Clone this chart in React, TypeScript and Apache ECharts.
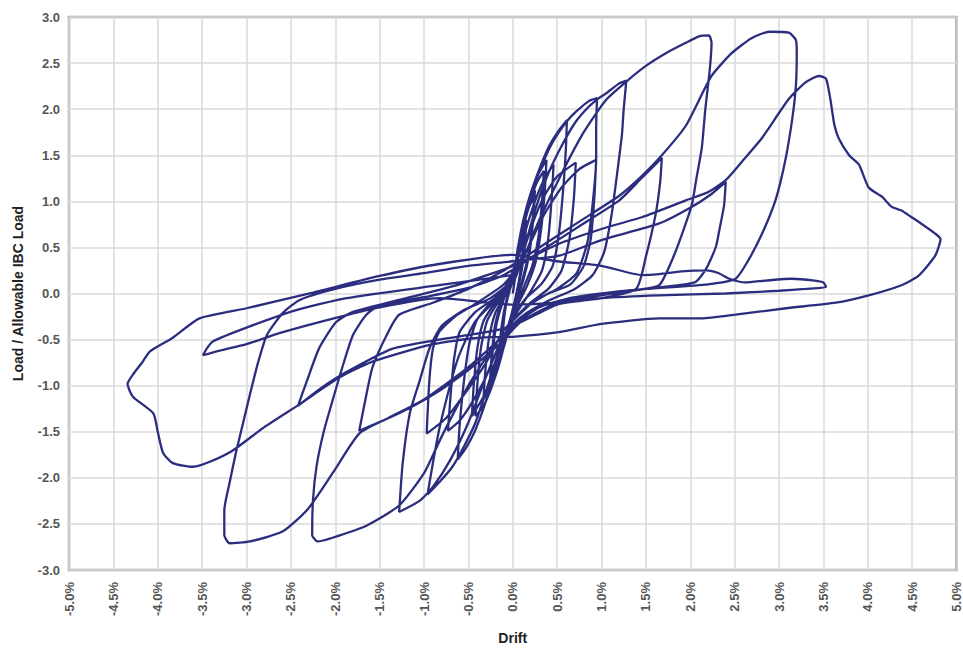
import React, { useEffect, useRef } from 'react';
import * as echarts from 'echarts';

// Axis ranges (drift in %, load ratio)
const X_MIN = -5;
const X_MAX = 5;
const X_STEP = 0.5;
const Y_MIN = -3;
const Y_MAX = 3;
const Y_STEP = 0.5;

// Hysteresis path: [drift %, load / allowable]
const cycle01 = [[0, 0], [0.04, 0.25], [0.08, 0.5], [0.12, 0.68], [0.11, 0.45], [0.08, 0.2], [0.03, -0.05], [-0.02, -0.25], [-0.07, -0.45], [-0.12, -0.62], [-0.11, -0.4], [-0.08, -0.15], [-0.03, 0.05], [0.02, 0.2]];
const cycle01b = [[0.05, 0.35], [0.1, 0.6], [0.15, 0.8], [0.14, 0.55], [0.1, 0.25], [0.04, -0.02], [-0.03, -0.3], [-0.09, -0.55], [-0.15, -0.72], [-0.14, -0.48], [-0.1, -0.2], [-0.04, 0.04], [0.01, 0.18]];
const cycle02 = [[0.07, 0.45], [0.13, 0.75], [0.19, 0.98], [0.25, 1.12], [0.23, 0.8], [0.19, 0.45], [0.12, 0.15], [0.03, -0.1], [-0.05, -0.35], [-0.12, -0.65], [-0.19, -0.88], [-0.26, -1.02], [-0.24, -0.7], [-0.2, -0.35], [-0.12, -0.08], [-0.02, 0.12]];
const cycle02b = [[0.06, 0.42], [0.12, 0.72], [0.18, 0.93], [0.24, 1.05], [0.22, 0.75], [0.17, 0.4], [0.1, 0.12], [0.02, -0.12], [-0.06, -0.38], [-0.13, -0.66], [-0.2, -0.86], [-0.25, -0.96], [-0.23, -0.66], [-0.18, -0.32], [-0.1, -0.06], [-0.01, 0.14]];
const cycle03 = [[0.05, 0.4], [0.12, 0.75], [0.2, 1.05], [0.28, 1.28], [0.38, 1.45], [0.36, 1.1], [0.32, 0.7], [0.26, 0.35], [0.16, 0.08], [0.04, -0.15], [-0.06, -0.4], [-0.15, -0.75], [-0.24, -1.02], [-0.33, -1.22], [-0.42, -1.33], [-0.4, -1.0], [-0.36, -0.6], [-0.29, -0.3], [-0.17, -0.1], [-0.03, 0.1]];
const cycle03b = [[0.04, 0.38], [0.11, 0.7], [0.19, 0.98], [0.27, 1.2], [0.35, 1.33], [0.33, 1.0], [0.29, 0.62], [0.22, 0.3], [0.12, 0.06], [0.02, -0.16], [-0.07, -0.42], [-0.16, -0.76], [-0.25, -1.0], [-0.33, -1.15], [-0.31, -0.85], [-0.27, -0.5], [-0.2, -0.22], [-0.09, -0.02], [0.0, 0.12]];
const cycle04 = [[0.05, 0.45], [0.12, 0.8], [0.2, 1.08], [0.3, 1.35], [0.41, 1.6], [0.52, 1.77], [0.61, 1.88], [0.6, 1.6], [0.57, 1.15], [0.52, 0.65], [0.45, 0.3], [0.32, 0.1], [0.15, -0.05], [0.0, -0.25], [-0.12, -0.55], [-0.22, -0.9], [-0.32, -1.22], [-0.43, -1.5], [-0.53, -1.68], [-0.62, -1.8], [-0.6, -1.45], [-0.55, -0.95], [-0.49, -0.55], [-0.4, -0.28], [-0.25, -0.1], [-0.08, 0.08]];
const cycle05 = [[0.05, 0.35], [0.15, 0.7], [0.25, 1.0], [0.36, 1.25], [0.46, 1.4], [0.44, 1.05], [0.4, 0.6], [0.33, 0.25], [0.2, 0.02], [0.05, -0.2], [-0.08, -0.45], [-0.2, -0.8], [-0.32, -1.1], [-0.46, -1.33], [-0.44, -1.0], [-0.4, -0.6], [-0.33, -0.3], [-0.2, -0.1], [-0.05, 0.1]];
const cycle06 = [[0.05, 0.4], [0.15, 0.85], [0.27, 1.25], [0.4, 1.55], [0.52, 1.75], [0.62, 1.88], [0.71, 1.97], [0.86, 2.09], [0.95, 2.12], [0.94, 1.8], [0.94, 1.47], [0.9, 0.97], [0.84, 0.55], [0.72, 0.22], [0.5, 0.05], [0.25, -0.08], [0.0, -0.3], [-0.15, -0.6], [-0.28, -1.0], [-0.42, -1.4], [-0.55, -1.66], [-0.68, -1.88], [-0.82, -2.04], [-0.96, -2.18], [-0.9, -1.84], [-0.83, -1.48], [-0.74, -1.12], [-0.64, -0.77], [-0.57, -0.59], [-0.42, -0.3], [-0.2, -0.08], [0.0, 0.12]];
const cycle07 = [[0.1, 0.4], [0.22, 0.75], [0.35, 1.05], [0.5, 1.27], [0.71, 1.42], [0.69, 1.05], [0.64, 0.6], [0.55, 0.25], [0.4, 0.05], [0.2, -0.1], [0.0, -0.3], [-0.15, -0.55], [-0.3, -0.9], [-0.47, -1.2], [-0.6, -1.38], [-0.73, -1.49], [-0.7, -1.1], [-0.66, -0.7], [-0.6, -0.42], [-0.42, -0.2], [-0.2, -0.05], [0.02, 0.15]];
const cycle08 = [[0.12, 0.45], [0.25, 0.9], [0.4, 1.3], [0.55, 1.6], [0.7, 1.85], [0.85, 2.02], [0.97, 2.12], [1.05, 2.17], [1.2, 2.28], [1.28, 2.31], [1.25, 2.0], [1.23, 1.72], [1.16, 1.18], [1.11, 0.83], [1.03, 0.45], [0.9, 0.2], [0.7, 0.05], [0.4, -0.08], [0.1, -0.25], [-0.1, -0.45], [-0.3, -0.9], [-0.5, -1.4], [-0.7, -1.8], [-0.9, -2.1], [-1.05, -2.25], [-1.28, -2.37], [-1.24, -1.84], [-1.16, -1.3], [-1.05, -0.95], [-0.94, -0.6], [-0.8, -0.35], [-0.55, -0.18], [-0.25, -0.05], [0.0, 0.15]];
const cycle09 = [[0.15, 0.45], [0.35, 0.85], [0.55, 1.15], [0.75, 1.35], [0.94, 1.45], [0.92, 1.05], [0.88, 0.6], [0.8, 0.3], [0.65, 0.1], [0.4, 0.0], [0.15, -0.15], [-0.1, -0.4], [-0.3, -0.75], [-0.55, -1.1], [-0.75, -1.35], [-0.97, -1.52], [-0.94, -0.95], [-0.9, -0.6], [-0.83, -0.42], [-0.65, -0.25], [-0.4, -0.1], [-0.1, 0.1]];
const cycle10 = [[0.1, 0.35], [0.3, 0.8], [0.55, 1.3], [0.8, 1.75], [1.05, 2.1], [1.28, 2.3], [1.5, 2.47], [1.73, 2.61], [1.95, 2.72], [2.1, 2.79], [2.21, 2.8], [2.24, 2.72], [2.22, 2.43], [2.17, 2.0], [2.13, 1.58], [2.07, 1.25], [2.02, 0.97], [1.95, 0.76], [1.82, 0.42], [1.65, 0.09], [1.4, 0.04], [1.0, 0.0], [0.6, -0.06], [0.3, -0.15], [0.0, -0.35], [-0.2, -0.55], [-0.5, -1.0], [-0.8, -1.55], [-1.0, -1.95], [-1.28, -2.3], [-1.65, -2.52], [-2.03, -2.65], [-2.2, -2.69], [-2.26, -2.62], [-2.25, -2.23], [-2.21, -1.87], [-2.13, -1.5], [-2.03, -1.16], [-1.92, -0.8], [-1.8, -0.45], [-1.65, -0.23], [-1.5, -0.13], [-1.0, -0.04], [-0.5, 0.06], [-0.1, 0.2]];
const cycle11 = [[0.3, 0.45], [0.75, 0.73], [1.2, 1.01], [1.45, 1.25], [1.68, 1.47], [1.66, 1.2], [1.61, 0.86], [1.5, 0.4], [1.39, 0.05], [1.0, -0.05], [0.5, -0.12], [0.1, -0.3], [-0.15, -0.55], [-0.5, -0.83], [-0.9, -1.1], [-1.28, -1.3], [-1.73, -1.49], [-1.66, -1.15], [-1.58, -0.8], [-1.42, -0.45], [-1.28, -0.23], [-0.9, -0.1], [-0.5, 0.05], [-0.1, 0.25]];
const cycle12 = [[0.3, 0.5], [0.75, 0.78], [1.2, 1.06], [1.45, 1.27], [1.68, 1.5], [1.95, 1.82], [2.24, 2.36], [2.47, 2.61], [2.69, 2.77], [2.89, 2.84], [3.11, 2.83], [3.19, 2.75], [3.2, 2.61], [3.19, 2.25], [3.15, 1.9], [3.07, 1.44], [2.96, 1.01], [2.81, 0.65], [2.66, 0.37], [2.51, 0.16], [2.2, 0.1], [1.5, 0.05], [1.0, 0.0], [0.5, -0.1], [0.1, -0.3], [-0.15, -0.5], [-0.5, -0.8], [-1.0, -1.15], [-1.4, -1.35], [-1.73, -1.52], [-2.03, -1.95], [-2.31, -2.34], [-2.59, -2.58], [-2.96, -2.69], [-3.19, -2.71], [-3.25, -2.62], [-3.25, -2.35], [-3.19, -2.05], [-3.12, -1.73], [-3.04, -1.41], [-2.96, -1.09], [-2.87, -0.75], [-2.77, -0.45], [-2.59, -0.21], [-2.4, -0.07], [-2.0, 0.05], [-1.5, 0.15], [-1.0, 0.22], [-0.5, 0.3], [0.0, 0.35]];
const cycle13 = [[0.52, 0.41], [1.0, 0.58], [1.65, 0.76], [2.0, 0.93], [2.24, 1.08], [2.4, 1.21], [2.38, 0.95], [2.33, 0.7], [2.29, 0.51], [2.18, 0.27], [2.05, 0.12], [1.5, 0.05], [1.0, -0.02], [0.5, -0.12], [0.0, -0.35], [-0.3, -0.42], [-0.83, -0.5], [-1.36, -0.6], [-1.87, -0.85], [-2.15, -1.02], [-2.42, -1.22], [-2.32, -0.95], [-2.18, -0.59], [-1.99, -0.31], [-1.8, -0.2], [-1.2, -0.05], [-0.6, 0.1], [0.0, 0.3]];
const cycle14 = [[0.52, 0.54], [1.0, 0.7], [1.46, 0.83], [1.95, 1.01], [2.2, 1.1], [2.4, 1.23], [2.6, 1.45], [2.81, 1.69], [3.11, 2.11], [3.3, 2.29], [3.45, 2.36], [3.53, 2.33], [3.58, 2.1], [3.62, 1.85], [3.67, 1.69], [3.79, 1.5], [3.9, 1.4], [4.01, 1.15], [4.16, 1.05], [4.27, 0.94], [4.38, 0.9], [4.49, 0.83], [4.6, 0.76], [4.76, 0.65], [4.82, 0.59], [4.76, 0.41], [4.57, 0.19], [4.38, 0.09], [4.01, -0.02], [3.64, -0.1], [3.08, -0.16], [2.51, -0.23], [2.13, -0.27], [1.65, -0.27], [1.0, -0.33], [0.52, -0.42], [0.0, -0.47], [-0.38, -0.48], [-0.9, -0.55], [-1.58, -0.74], [-1.95, -0.91], [-2.4, -1.2], [-2.8, -1.45], [-3.15, -1.7], [-3.4, -1.82], [-3.6, -1.88], [-3.83, -1.84], [-3.94, -1.73], [-4.0, -1.5], [-4.05, -1.3], [-4.28, -1.12], [-4.34, -0.98], [-4.28, -0.88], [-4.17, -0.74], [-4.09, -0.63], [-3.83, -0.48], [-3.53, -0.27], [-3.0, -0.16], [-2.25, 0.01], [-1.5, 0.19], [-0.83, 0.32], [0.0, 0.42]];
const cycle15 = [[0.5, 0.35], [1.0, 0.3], [1.46, 0.2], [1.65, 0.21], [1.9, 0.24], [2.18, 0.25], [2.32, 0.22], [2.44, 0.16], [2.62, 0.12], [2.85, 0.14], [3.14, 0.16], [3.4, 0.14], [3.5, 0.12], [3.53, 0.07], [3.3, 0.05], [3.0, 0.03], [2.4, 0.0], [1.65, -0.02], [1.0, -0.05], [0.5, -0.1], [0.0, -0.12], [-0.83, -0.05], [-1.5, -0.15], [-2.06, -0.28], [-2.63, -0.43], [-3.0, -0.55], [-3.3, -0.62], [-3.49, -0.67], [-3.45, -0.6], [-3.38, -0.52], [-3.0, -0.37], [-2.44, -0.18], [-1.87, -0.05], [-0.83, 0.09], [0.0, 0.2]];

const cycles = [cycle01, cycle01b, cycle02, cycle02b, cycle03, cycle03b, cycle04, cycle05, cycle06, cycle07, cycle08, cycle09, cycle10, cycle11, cycle12, cycle13, cycle14, cycle15];

const LINE_COLOR = '#2B2D7E';
const FONT = 'Liberation Sans, Arial, sans-serif';

export default function App() {
  const ref = useRef<HTMLDivElement>(null);

  useEffect(() => {
    if (!ref.current) return;
    const chart = echarts.init(ref.current, undefined, { renderer: 'svg' });
    const path: number[][] = [];
    cycles.forEach((c) => c.forEach((p) => path.push(p)));

    chart.setOption({
      animation: false,
      backgroundColor: '#ffffff',
      grid: {
        left: 69,
        right: 5,
        top: 17,
        bottom: 71,
        show: true,
        borderColor: '#9A9A9A',
        borderWidth: 2.5,
      },
      xAxis: {
        type: 'value',
        min: X_MIN,
        max: X_MAX,
        interval: X_STEP,
        name: 'Drift',
        nameLocation: 'middle',
        nameGap: 61,
        nameTextStyle: { fontFamily: FONT, fontWeight: 'bold', fontSize: 14, color: '#222' },
        axisLine: { show: false },
        axisTick: { show: false },
        splitLine: { show: true, lineStyle: { color: '#DADADA', width: 1.5 } },
        axisLabel: {
          rotate: 90,
          margin: 12,
          fontFamily: FONT,
          fontSize: 13,
          fontWeight: 'bold',
          color: '#555',
          formatter: (v: number) => v.toFixed(1) + '%',
        },
      },
      yAxis: {
        type: 'value',
        min: Y_MIN,
        max: Y_MAX,
        interval: Y_STEP,
        name: 'Load / Allowable IBC Load',
        nameLocation: 'middle',
        nameGap: 44,
        nameTextStyle: { fontFamily: FONT, fontWeight: 'bold', fontSize: 14, color: '#222' },
        axisLine: { show: false },
        axisTick: { show: false },
        splitLine: { show: true, lineStyle: { color: '#DADADA', width: 1.5 } },
        axisLabel: {
          margin: 9,
          fontFamily: FONT,
          fontSize: 13,
          fontWeight: 'bold',
          color: '#555',
          formatter: (v: number) => v.toFixed(1),
        },
      },
      series: [
        {
          type: 'line',
          data: path,
          symbol: 'none',
          smooth: 0.2,
          lineStyle: { color: LINE_COLOR, width: 2.3 },
          z: 3,
        },
      ],
    });
    return () => chart.dispose();
  }, []);

  return (
    <div
      ref={ref}
      style={{ position: 'fixed', left: 0, top: 0, width: 963, height: 650, background: '#fff' }}
    />
  );
}
